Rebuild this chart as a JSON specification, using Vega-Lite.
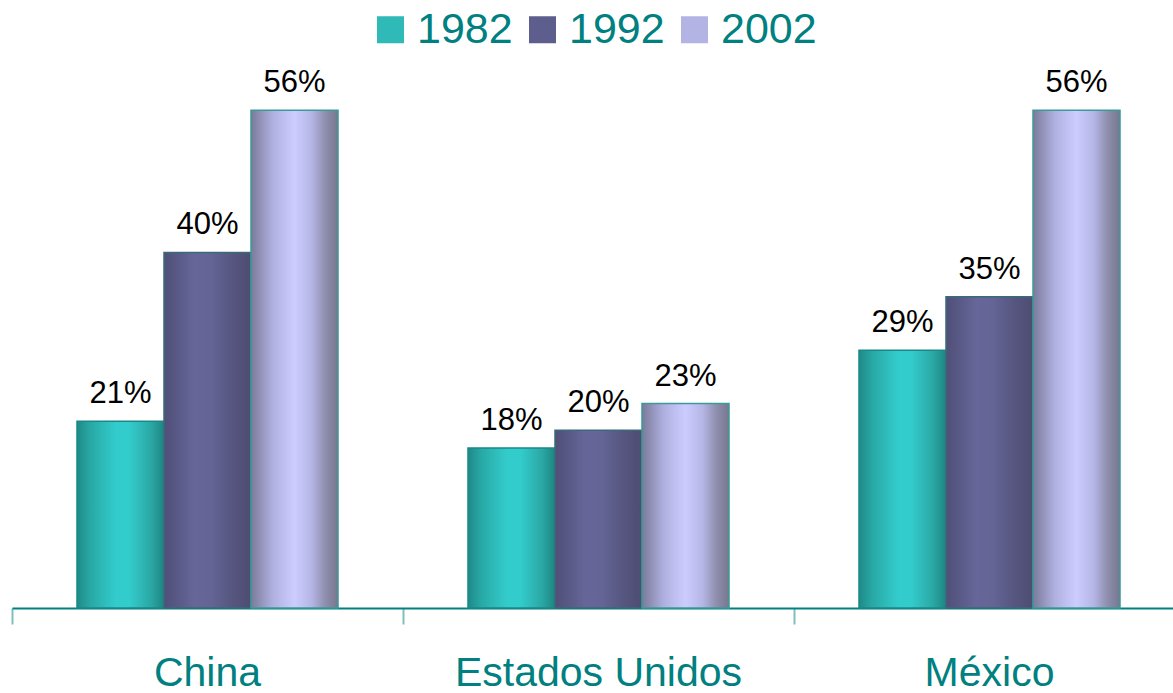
{
  "$schema": "https://vega.github.io/schema/vega-lite/v6.json",
  "width": 1173,
  "height": 548,
  "autosize": {"type": "none"},
  "padding": {"left": 12, "top": 60, "right": -12, "bottom": 85},
  "background": "white",
  "config": {"view": {"stroke": null}, "font": "Liberation Sans"},
  "data": {
    "values": [
      {"pais": "China", "year": "1982", "value": 0.21},
      {"pais": "China", "year": "1992", "value": 0.40},
      {"pais": "China", "year": "2002", "value": 0.56},
      {"pais": "Estados Unidos", "year": "1982", "value": 0.18},
      {"pais": "Estados Unidos", "year": "1992", "value": 0.20},
      {"pais": "Estados Unidos", "year": "2002", "value": 0.23},
      {"pais": "México", "year": "1982", "value": 0.29},
      {"pais": "México", "year": "1992", "value": 0.35},
      {"pais": "México", "year": "2002", "value": 0.56}
    ]
  },
  "encoding": {
    "x": {
      "field": "pais",
      "type": "nominal",
      "sort": ["China", "Estados Unidos", "México"],
      "title": null,
      "scale": {"paddingInner": 0, "paddingOuter": 0},
      "axis": {
        "bandPosition": 0,
        "labelAngle": 0,
        "labelFontSize": 41,
        "labelColor": "#008080",
        "labelFont": "Liberation Sans",
        "labelPadding": 29,
        "labelLimit": 0,
        "domainColor": "#008080",
        "domainWidth": 2,
        "tickColor": "#80BFBF",
        "tickWidth": 2,
        "tickSize": 16,
        "grid": false
      }
    },
    "xOffset": {
      "field": "year",
      "type": "nominal",
      "scale": {"paddingInner": 0, "paddingOuter": 0.747}
    },
    "y": {
      "field": "value",
      "type": "quantitative",
      "scale": {"domain": [0, 0.6164], "nice": false},
      "axis": null
    }
  },
  "layer": [
    {
      "mark": {"type": "bar"},
      "encoding": {
        "color": {
          "field": "year",
          "type": "nominal",
          "scale": {"range": ["#2FB9B7", "#5E5E8E", "#B4B4E4"]},
          "legend": {
            "orient": "none",
            "legendX": 357,
            "legendY": -52,
            "direction": "horizontal",
            "title": null,
            "symbolType": "square",
            "symbolSize": 729,
            "symbolStrokeWidth": 0,
            "labelFontSize": 43,
            "labelColor": "#008080",
            "labelFont": "Liberation Sans",
            "labelOffset": 5,
            "columnPadding": 8,
            "padding": 0
          }
        }
      }
    },
    {
      "transform": [{"filter": "datum.year === '1982'"}],
      "mark": {
        "type": "bar",
        "stroke": "#1A8888",
        "strokeWidth": 1.5,
        "color": {
          "gradient": "linear", "x1": 0, "y1": 0, "x2": 1, "y2": 0,
          "stops": [
            {"offset": 0, "color": "#1F8A87"},
            {"offset": 0.15, "color": "#28A8A5"},
            {"offset": 0.45, "color": "#33CCCC"},
            {"offset": 0.6, "color": "#33CCCC"},
            {"offset": 0.85, "color": "#2AA8A5"},
            {"offset": 1, "color": "#1E8582"}
          ]
        }
      }
    },
    {
      "transform": [{"filter": "datum.year === '1992'"}],
      "mark": {
        "type": "bar",
        "stroke": "#3A6A7A",
        "strokeWidth": 1.5,
        "color": {
          "gradient": "linear", "x1": 0, "y1": 0, "x2": 1, "y2": 0,
          "stops": [
            {"offset": 0, "color": "#4F4F78"},
            {"offset": 0.35, "color": "#666699"},
            {"offset": 0.55, "color": "#646495"},
            {"offset": 0.8, "color": "#55557F"},
            {"offset": 1, "color": "#4D4D72"}
          ]
        }
      }
    },
    {
      "transform": [{"filter": "datum.year === '2002'"}],
      "mark": {
        "type": "bar",
        "stroke": "#3A9A9A",
        "strokeWidth": 1.5,
        "color": {
          "gradient": "linear", "x1": 0, "y1": 0, "x2": 1, "y2": 0,
          "stops": [
            {"offset": 0, "color": "#7A7A9A"},
            {"offset": 0.25, "color": "#B0B0E0"},
            {"offset": 0.5, "color": "#CCCCFF"},
            {"offset": 0.7, "color": "#B5B5E5"},
            {"offset": 0.85, "color": "#8F8FAF"},
            {"offset": 1, "color": "#77778F"}
          ]
        }
      }
    },
    {
      "mark": {"type": "text", "baseline": "alphabetic", "dy": -18, "fontSize": 31, "color": "black", "font": "Liberation Sans"},
      "encoding": {"text": {"field": "value", "type": "quantitative", "format": ".0%"}}
    }
  ]
}
